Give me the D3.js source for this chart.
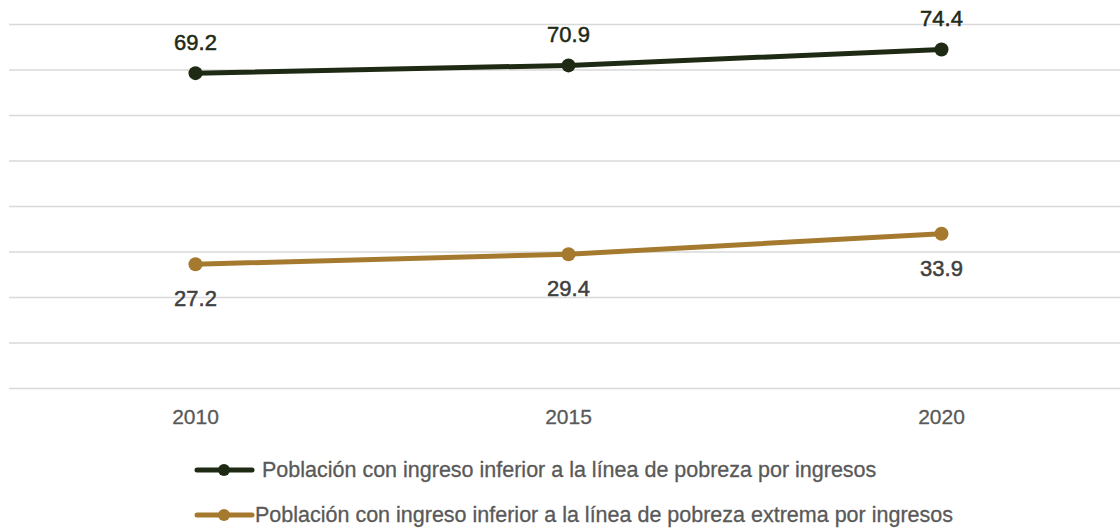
<!DOCTYPE html>
<html>
<head>
<meta charset="utf-8">
<script src="https://cdn.jsdelivr.net/npm/d3@7"></script>
<style>
  body { margin: 0; background: #fff; }
  text { font-family: "Liberation Sans", Arial, sans-serif; }
</style>
</head>
<body>
<div id="chart"></div>
<script>
// Chart data
var years = ["2010", "2015", "2020"];
var pobreza = [69.2, 70.9, 74.4];
var pobrezaExtrema = [27.2, 29.4, 33.9];
var seriesNames = [
  "Población con ingreso inferior a la línea de pobreza por ingresos",
  "Población con ingreso inferior a la línea de pobreza extrema por ingresos"
];
var gridTicks = [0, 10, 20, 30, 40, 50, 60, 70, 80];

var W = 1120, H = 529;
var margin = {top: 24, right: 0, bottom: 141, left: 9};
var w = W - margin.left - margin.right,
    h = H - margin.top - margin.bottom;

var svg = d3.select("#chart").append("svg")
  .attr("width", W)
  .attr("height", H);

var g = svg.append("g")
  .attr("transform", `translate(${margin.left},${margin.top})`);

// scales
var x = d3.scaleBand()
  .domain(years)
  .range([0, 373 * 3])
  .padding(0);

var y = d3.scaleLinear()
  .domain([0, 80])
  .range([h, 0]);

var cx = d => x(d) + x.bandwidth() / 2;

// gridlines
g.append("g")
  .call(d3.axisLeft(y).tickValues(gridTicks).tickSize(-w).tickFormat(""))
  .call(a => a.select(".domain").remove())
  .selectAll("line")
  .attr("stroke", "#d9d9d9")
  .attr("stroke-width", 1.5);

// x axis labels
g.append("g")
  .attr("transform", `translate(0,${h})`)
  .call(d3.axisBottom(x).tickSize(0).tickPadding(21))
  .call(a => a.select(".domain").remove())
  .selectAll("text")
  .style("font-size", "21px")
  .attr("fill", "#595959")
  .attr("stroke", "#595959")
  .attr("stroke-width", 0.3);

var series = [
  {name: seriesNames[0], values: pobreza, color: "#1f2a15", labelColor: "#1f2a15", dy: -23},
  {name: seriesNames[1], values: pobrezaExtrema, color: "#a57a2f", labelColor: "#404040", dy: 42}
];

var line = d3.line()
  .x((d, i) => cx(years[i]))
  .y(d => y(d));

series.forEach(function(s) {
  g.append("path")
    .datum(s.values)
    .attr("fill", "none")
    .attr("stroke", s.color)
    .attr("stroke-width", 5)
    .attr("d", line);

  g.selectAll(null)
    .data(s.values)
    .enter().append("circle")
    .attr("cx", (d, i) => cx(years[i]))
    .attr("cy", d => y(d))
    .attr("r", 7)
    .attr("fill", s.color);

  g.selectAll(null)
    .data(s.values)
    .enter().append("text")
    .attr("x", (d, i) => cx(years[i]))
    .attr("y", d => y(d) + s.dy)
    .attr("text-anchor", "middle")
    .style("font-size", "22px")
    .attr("fill", s.labelColor)
    .attr("stroke", s.labelColor)
    .attr("stroke-width", 0.5)
    .text(d => d.toFixed(1));
});

// legend
var legend = svg.append("g");
var legendRows = [
  {y: 470, textX: 262},
  {y: 515, textX: 255}
];
series.forEach(function(s, i) {
  var r = legendRows[i];
  legend.append("line")
    .attr("x1", 197).attr("x2", 252)
    .attr("y1", r.y).attr("y2", r.y)
    .attr("stroke", s.color)
    .attr("stroke-width", 5)
    .attr("stroke-linecap", "round");
  legend.append("circle")
    .attr("cx", 224).attr("cy", r.y)
    .attr("r", 6)
    .attr("fill", s.color);
  legend.append("text")
    .attr("x", r.textX)
    .attr("y", r.y + 7)
    .style("font-size", "21.5px")
    .attr("fill", "#595959")
    .attr("stroke", "#595959")
    .attr("stroke-width", 0.3)
    .text(s.name);
});
</script>
</body>
</html>
